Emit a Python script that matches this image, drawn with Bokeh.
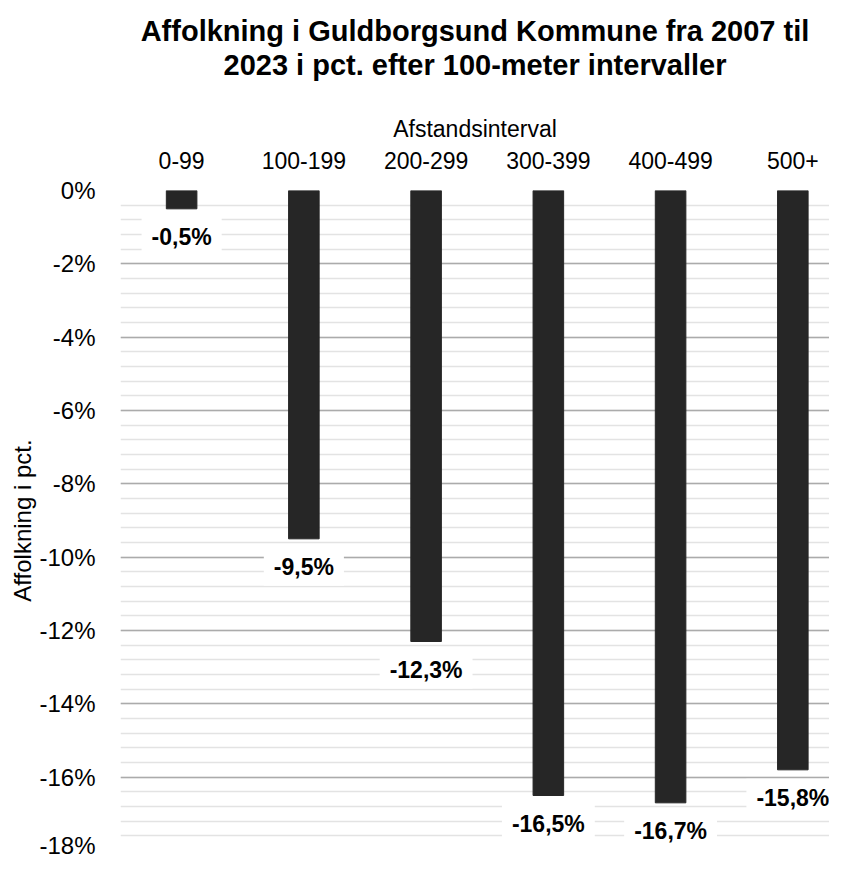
from bokeh.plotting import figure
from bokeh.models import ColumnDataSource, Range1d, FixedTicker, PrintfTickFormatter, Title
from bokeh.core.properties import value
from bokeh.embed import file_html
from bokeh.resources import INLINE

categories = ["0-99", "100-199", "200-299", "300-399", "400-499", "500+"]
values = [-0.5, -9.5, -12.3, -16.5, -16.7, -15.8]
y_ticks = [0, -2, -4, -6, -8, -10, -12, -14, -16, -18]
y_minor = [round(-0.4 * i, 1) for i in range(46)]
title_lines = ["Affolkning i Guldborgsund Kommune fra 2007 til",
               "2023 i pct. efter 100-meter intervaller"]

FONT = "Liberation Sans"

xs = list(range(len(categories)))
labels = [f"{v:.1f}%".replace(".", ",") for v in values]
src = ColumnDataSource(dict(x=xs, v=values, lbl=labels))

p = figure(width=829, height=858, output_backend="svg", toolbar_location=None,
           x_range=Range1d(-0.5, 5.30), y_range=Range1d(-18, 0),
           x_axis_location="above", title=None,
           min_border_left=120, min_border_right=0, min_border_bottom=8, min_border_top=0)

spacer = Title(text=" ", align="center", text_font=FONT, text_font_size="27px", standoff=0)
t2 = Title(text=title_lines[1], align="center", text_font=FONT, text_font_size="29px",
           text_font_style="bold", text_color="#000000", standoff=0)
t1 = Title(text=title_lines[0], align="center", text_font=FONT, text_font_size="29px",
           text_font_style="bold", text_color="#000000", standoff=0)
top_spacer = Title(text=" ", align="center", text_font=FONT, text_font_size="9px", standoff=0)
p.add_layout(spacer, "above")
p.add_layout(t2, "above")
p.add_layout(t1, "above")
p.add_layout(top_spacer, "above")

p.outline_line_color = None
p.background_fill_color = "white"
p.border_fill_color = "white"

p.vbar(x="x", top=0, bottom="v", width=0.25, source=src,
       fill_color="#262626", line_color="#262626")

p.text(x="x", y="v", text="lbl", source=src, text_align="center", text_baseline="middle",
       y_offset=28, text_font=value(FONT), text_font_style="bold", text_font_size="23px",
       text_color="#000000", background_fill_color="white", padding=(10, 6))

# x axis (above)
xa = p.xaxis[0]
xa.ticker = FixedTicker(ticks=xs)
xa.major_label_overrides = {i: c for i, c in enumerate(categories)}
xa.axis_label = "Afstandsinterval"
xa.axis_label_text_font = FONT
xa.axis_label_text_font_size = "23px"
xa.axis_label_text_font_style = "normal"
xa.axis_label_text_color = "#000000"
xa.axis_label_standoff = 7
xa.major_label_text_font = FONT
xa.major_label_text_font_size = "23px"
xa.major_label_text_color = "#000000"
xa.major_label_standoff = 16
xa.axis_line_color = None
xa.major_tick_line_color = None
xa.minor_tick_line_color = None

# y axis
ya = p.yaxis[0]
ya.ticker = FixedTicker(ticks=y_ticks, minor_ticks=y_minor)
ya.formatter = PrintfTickFormatter(format="%d%%")
ya.axis_label = "Affolkning i pct."
ya.axis_label_text_font = FONT
ya.axis_label_text_font_size = "24px"
ya.axis_label_text_font_style = "normal"
ya.axis_label_text_color = "#000000"
ya.axis_label_standoff = 0
ya.major_label_text_font = FONT
ya.major_label_text_font_size = "24px"
ya.major_label_text_color = "#000000"
ya.major_label_standoff = 19
ya.axis_line_color = None
ya.major_tick_line_color = None
ya.minor_tick_line_color = None

p.xgrid.grid_line_color = None
p.ygrid.grid_line_color = "#ababab"
p.ygrid.grid_line_width = 1.5
p.ygrid.minor_grid_line_color = "#e3e3e3"
p.ygrid.minor_grid_line_width = 1.5

open("out.html", "w").write(file_html(p, INLINE))
